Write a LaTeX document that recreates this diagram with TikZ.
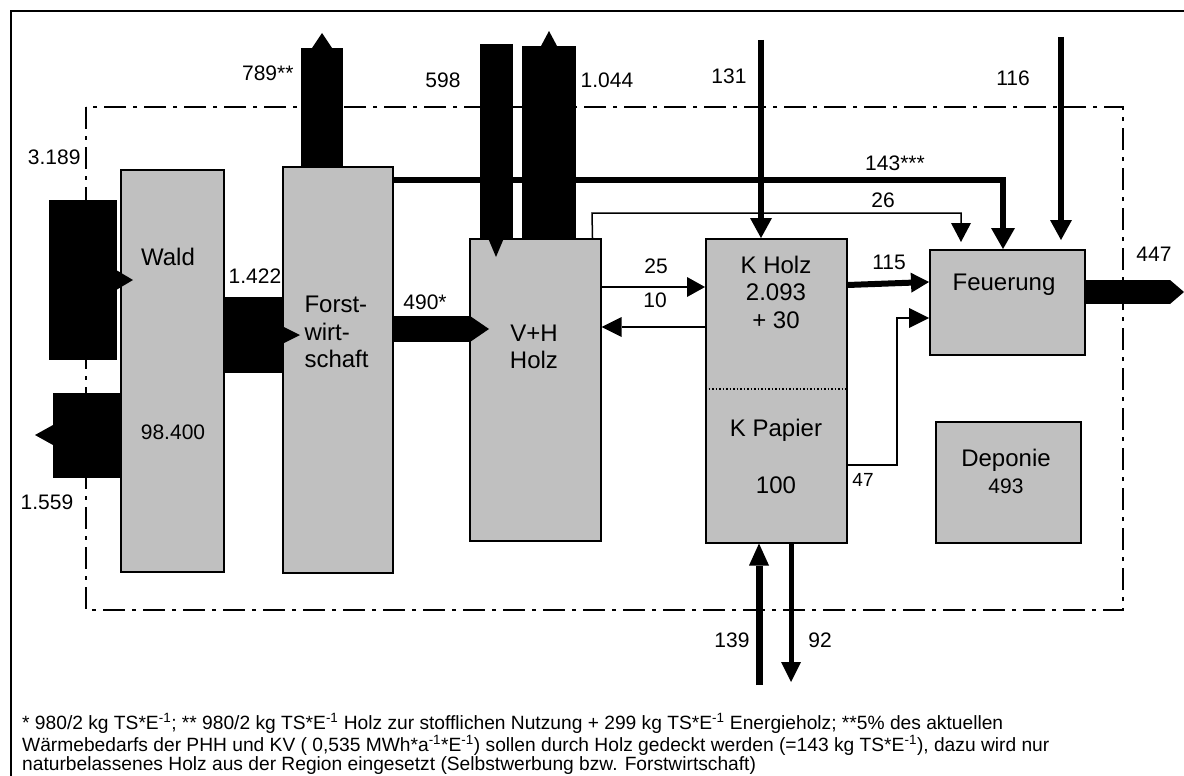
\documentclass[tikz,border=0pt]{standalone}
\usepackage{fontspec}
\setmainfont{Liberation Sans}
\usetikzlibrary{arrows.meta,positioning,calc}
\definecolor{boxgray}{HTML}{C0C0C0}

\begin{document}
\begin{tikzpicture}[x=1pt,y=-1pt,
  box/.style={draw,fill=boxgray,line width=1.5pt,anchor=north west,inner sep=0pt},
  boxname/.style={font=\fontsize{24}{27.5}\selectfont},
  amount/.style={font=\fontsize{21}{24}\selectfont},
  thinline/.style={line width=1.5pt},
  thickline/.style={line width=6pt},
  flowtip/.style 2 args={-{Triangle[length=#1pt,width=#2pt,line width=0pt]}}
]
  \useasboundingbox (0,0) rectangle (1184,776);
  \fill[white] (0,0) rectangle (1184,776);
  \draw[line width=2pt] (1184,11) -- (11,11) -- (11,776);

  % System boundary
  \draw[line width=2.5pt,dash pattern=on 22pt off 7pt on 4pt off 7pt] (86,107) rectangle (1123,610);

  % Processes
  \node[box,minimum width=103pt,minimum height=402pt] (wald) at (120,169) {};
  \node[box,minimum width=110pt,minimum height=406pt] (forst) at (282,166) {};
  \node[box,minimum width=131pt,minimum height=302pt] (vh) at (469,238) {};
  \node[box,minimum width=141pt,minimum height=304pt] (kholz) at (705,238) {};
  \node[box,minimum width=155pt,minimum height=105pt] (feuer) at (929,249) {};
  \node[box,minimum width=145pt,minimum height=121pt] (depo) at (935,421) {};
  \draw[thinline,dotted] ($(kholz.north west)+(0,151)$) -- ($(kholz.north east)+(0,151)$);

  % Process texts
  \node[boxname] (waldname) at (168,257) {Wald};
  \node[amount] (waldstock) at (173,432) {98.400};
  \node[boxname,anchor=west,align=left] (forstname) at (301,332) {Forst-\\wirt-\\schaft};
  \node[boxname,align=center] (vhname) at (534,347) {V+H\\Holz};
  \node[boxname,align=center] (kholzname) at (776,292) {K Holz\\2.093\\+ 30};
  \node[boxname] (kpapname) at (776,430) {K Papier};
  \node[boxname] (kpapstock) at (776,485) {100};
  \node[boxname] (feuername) at (1004,285) {Feuerung};
  \node[boxname] (deponame) at (1006,460) {Deponie};
  \node[amount] (depostock) at (1006,486) {493};

  % Wide flows
  \coordinate (s3189) at (49,280);
  \draw[line width=160pt,flowtip={16}{19}] (s3189) -- ($(wald.west |- s3189)+(13,0)$);
  \coordinate (e1559) at (35,435);
  \draw[line width=85pt,flowtip={18}{20}] (wald.west |- e1559) -- (e1559);
  \coordinate (e1422) at (300,335);
  \draw[line width=76pt,flowtip={17}{17}] (wald.east |- e1422) -- (e1422);
  \coordinate (e789) at (322,33);
  \draw[line width=42pt,flowtip={15}{20}] (forst.north -| e789) -- (e789);
  \coordinate (e490) at (489,329);
  \draw[line width=26pt,flowtip={19}{26}] (forst.east |- e490) -- (e490);
  \coordinate (s598) at (496,44);
  \draw[line width=33pt,flowtip={19}{16}] (s598) -- ($(vh.north -| s598)+(0,19)$);
  \coordinate (e1044) at (549,31);
  \draw[line width=54pt,flowtip={15}{16}] (vh.north -| e1044) -- (e1044);
  \coordinate (e447) at (1184,292);
  \draw[line width=24pt,flowtip={14}{24}] (feuer.east |- e447) -- (e447);

  % Narrow flows
  \coordinate (k143) at (1003,180);
  \draw[thickline,flowtip={21}{24}] (forst.east |- k143) -- (k143) -- (feuer.north -| k143);
  \coordinate (k26a) at (592,213);
  \coordinate (k26b) at (961,213);
  \draw[thinline,flowtip={19}{20}] ($(vh.north east)+(-9,0)$) -- (k26a) -- (k26b) -- ($(feuer.north -| k26b)+(0,-7)$);
  \coordinate (s131) at (761,40);
  \draw[thickline,flowtip={20}{22}] (s131) -- (kholz.north -| s131);
  \coordinate (s116) at (1061,37);
  \draw[thickline,flowtip={20}{22}] (s116) -- ($(feuer.north -| s116)+(0,-9)$);
  \draw[thinline,flowtip={18}{20}] ($(vh.north east)+(0,49)$) -- ($(kholz.north west)+(0,49)$);
  \draw[thinline,flowtip={20}{20}] ($(kholz.north west)+(0,89)$) -- ($(vh.north east)+(0,89)$);
  \draw[thickline,flowtip={18}{20}] ($(kholz.north east)+(0,47)$) -- ($(feuer.north west)+(0,33)$);
  \coordinate (k47) at (897,465);
  \draw[thinline,flowtip={20}{20}] (kholz.east |- k47) -- (k47) |- ($(feuer.north west)+(0,69)$);
  \coordinate (s139) at (759,685);
  \draw[line width=7pt,flowtip={22}{20}] (s139) -- (kholz.south -| s139);
  \coordinate (e92) at (791,682);
  \draw[line width=5pt,flowtip={20}{20}] (kholz.south -| e92) -- (e92);

  % Flow values
  \node[amount,anchor=east] (v3189) at (84,157) {3.189};
  \node[amount] (v1559) at (47,502) {1.559};
  \node[amount] (v1422) at (255,276) {1.422};
  \node[amount,anchor=east] (v789) at (297,73) {789**};
  \node[amount] (v490) at (425,302) {490*};
  \node[amount] (v598) at (443,80) {598};
  \node[amount] (v1044) at (607,80) {1.044};
  \node[amount] (v131) at (729,76) {131};
  \node[amount] (v116) at (1013,78) {116};
  \node[amount] (v143) at (895,163) {143***};
  \node[amount] (v26) at (883,200) {26};
  \node[amount] (v25) at (656,266) {25};
  \node[amount] (v10) at (655,300) {10};
  \node[amount] (v115) at (889,262) {115};
  \node[amount] (v447) at (1154,254) {447};
  \node[amount,font=\fontsize{19}{22}\selectfont] (v47) at (863,480) {47};
  \node[amount] (v139) at (732,640) {139};
  \node[amount] (v92) at (820,640) {92};

  % Footnotes
  \node[anchor=north west,align=left,inner sep=0pt,font=\fontsize{19.2}{19}\selectfont] (notes) at (22,713)
    {* 980/2 kg TS*E\textsuperscript{-1}; ** 980/2 kg TS*E\textsuperscript{-1} Holz zur stofflichen Nutzung + 299 kg TS*E\textsuperscript{-1} Energieholz; **5\% des aktuellen\\
     Wärmebedarfs der PHH und KV ( 0,535 MWh*a\textsuperscript{-1}*E\textsuperscript{-1}) sollen durch Holz gedeckt werden (=143 kg TS*E\textsuperscript{-1}), dazu wird nur\\
     naturbelassenes Holz aus der Region eingesetzt (Selbstwerbung bzw. Forstwirtschaft)};
\end{tikzpicture}
\end{document}
